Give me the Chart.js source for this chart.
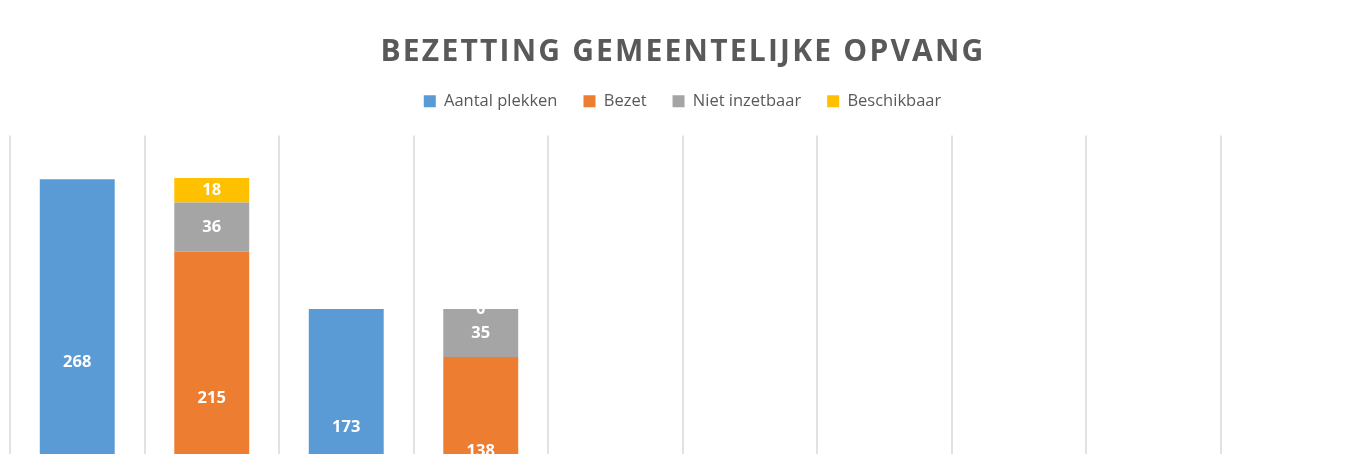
<!DOCTYPE html>
<html lang="nl">
<head>
<meta charset="utf-8">
<title>Bezetting gemeentelijke opvang</title>
<script src="https://cdn.jsdelivr.net/npm/chart.js@4/dist/chart.umd.min.js"></script>
<style>
    html, body { margin: 0; padding: 0; background: #fff; overflow: hidden; }
    body { width: 1351px; height: 454px; position: relative; }
    #wrap { position: absolute; left: 0; top: 0; width: 1365px; height: 600px; }
</style>
</head>
<body>
<div id="wrap"><canvas id="opvangChart"></canvas></div>
<script>
// Gegevens
const categorieen = ['Plekken', 'Bezetting', 'Plekken', 'Bezetting', '', '', '', '', '', ''];
const aantalPlekken = [268, null, 173, null, null, null, null, null, null, null];
const bezet = [null, 215, null, 138, null, null, null, null, null, null];
const nietInzetbaar = [null, 36, null, 35, null, null, null, null, null, null];
const beschikbaar = [null, 18, null, 0, null, null, null, null, null, null];
const yMin = 0;
const yMax = 300;

const titelTekst = 'BEZETTING GEMEENTELIJKE OPVANG';
const tekstKleur = '#595959';

// Titel met letterafstand tekenen
const titelPlugin = {
    id: 'titelMetSpatiering',
    afterDraw(chart) {
        if (!chart.titleBlock) return;
        const ctx = chart.ctx;
        ctx.save();
        ctx.font = 'bold 30px "Open Sans"';
        ctx.letterSpacing = '2.2px';
        ctx.fillStyle = tekstKleur;
        ctx.textAlign = 'center';
        ctx.textBaseline = 'middle';
        ctx.fillText(titelTekst, 683, 52);
        ctx.restore();
    }
};

// Waarden in de balken
const labelPlugin = {
    id: 'waardeLabels',
    afterDatasetsDraw(chart) {
        const ctx = chart.ctx;
        ctx.save();
        ctx.font = 'bold 16.5px "Open Sans"';
        ctx.fillStyle = '#ffffff';
        ctx.textAlign = 'center';
        ctx.textBaseline = 'middle';
        chart.data.datasets.forEach((ds, i) => {
            const meta = chart.getDatasetMeta(i);
            meta.data.forEach((el, j) => {
                const v = ds.data[j];
                if (v === null || v === undefined) return;
                const p = el.getProps(['x', 'y', 'base'], true);
                ctx.fillText(String(v), p.x, (p.y + p.base) / 2);
            });
        });
        ctx.restore();
    }
};

const ctx = document.getElementById('opvangChart');

new Chart(ctx, {
    type: 'bar',
    data: {
        labels: categorieen,
        datasets: [
            { label: 'Aantal plekken', data: aantalPlekken, backgroundColor: '#5B9BD5' },
            { label: 'Bezet', data: bezet, backgroundColor: '#ED7D31' },
            { label: 'Niet inzetbaar', data: nietInzetbaar, backgroundColor: '#A5A5A5' },
            { label: 'Beschikbaar', data: beschikbaar, backgroundColor: '#FFC000' }
        ]
    },
    options: {
        responsive: true,
        maintainAspectRatio: false,
        animation: false,
        layout: { padding: { top: 20, left: 10, right: 10, bottom: 34 } },
        datasets: {
            bar: { categoryPercentage: 1, barPercentage: 0.557, borderWidth: 0 }
        },
        scales: {
            x: {
                stacked: true,
                grid: { display: true, color: '#e2e2e2', lineWidth: 2, drawTicks: false, offset: true },
                border: { display: false },
                ticks: { color: tekstKleur, font: { family: 'Open Sans', size: 12 } }
            },
            y: {
                stacked: true,
                display: false,
                min: yMin,
                max: yMax
            }
        },
        plugins: {
            title: {
                display: true,
                text: titelTekst,
                color: 'rgba(0,0,0,0)',
                font: { family: 'Open Sans', size: 29, weight: 'bold', lineHeight: 1 },
                padding: { top: 16, bottom: 2 }
            },
            legend: {
                position: 'top',
                weight: 1800,
                labels: {
                    color: tekstKleur,
                    boxWidth: 12,
                    boxHeight: 12,
                    padding: 26,
                    font: { family: 'Open Sans', size: 16.5 }
                }
            },
            // lege ondertitel als ruimte tussen legenda en grafiek
            subtitle: {
                display: true,
                text: '',
                font: { size: 1, lineHeight: 1 },
                padding: { top: 0, bottom: 15 }
            },
            tooltip: { enabled: false }
        }
    },
    plugins: [titelPlugin, labelPlugin]
});
</script>
</body>
</html>
